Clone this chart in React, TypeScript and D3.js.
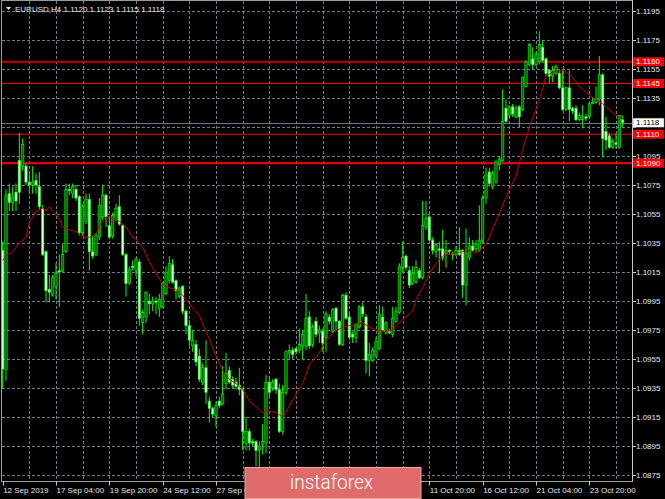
import React from 'react';
import * as d3 from 'd3';

const opens = [1.1030,1.0948,1.1069,1.1063,1.1070,1.1092,1.1088,1.1088,1.1077,1.1075,
1.1078,1.1074,1.1059,1.1029,1.1003,1.0999,1.1005,1.1016,1.1016,1.1029,
1.1072,1.1069,1.1072,1.1067,1.1042,1.1050,1.1065,1.1029,1.1027,1.1039,
1.1053,1.1068,1.1047,1.1040,1.1051,1.1060,1.1047,1.1027,1.1007,1.1019,
1.1016,1.1022,1.0980,1.0984,1.0995,1.0993,1.0995,1.0990,1.0991,1.1000,
1.1009,1.1020,1.1009,1.0998,1.1005,1.0988,1.0978,1.0964,1.0965,1.0957,
1.0939,1.0949,1.0926,1.0921,1.0916,1.0926,1.0924,1.0938,1.0947,1.0941,
1.0939,1.0937,1.0934,1.0897,1.0905,1.0898,1.0898,1.0892,1.0896,1.0897,
1.0939,1.0935,1.0941,1.0934,1.0905,1.0932,1.0959,1.0961,1.0962,1.0961,
1.0964,1.0964,1.0984,1.0965,1.0981,1.0973,1.0974,1.0970,1.0984,1.0974,
1.0990,1.0981,1.0965,1.0999,1.0984,1.0972,1.0970,1.0977,1.0991,1.0984,
1.0954,1.0954,1.0957,1.0962,1.0984,1.0973,1.0974,1.0972,1.0981,1.0987,
1.1018,1.1026,1.1016,1.1007,1.1008,1.1016,1.1011,1.1046,1.1053,1.1037,
1.1029,1.1031,1.1031,1.1028,1.1030,1.1027,1.1027,1.1030,1.1030,1.1006,
1.1025,1.1033,1.1031,1.1030,1.1037,1.1066,1.1084,1.1074,1.1077,1.1089,
1.1092,1.1128,1.1123,1.1129,1.1122,1.1129,1.1127,1.1143,1.1158,1.1162,
1.1158,1.1160,1.1170,1.1162,1.1154,1.1150,1.1152,1.1152,1.1142,1.1127,
1.1142,1.1128,1.1128,1.1120,1.1120,1.1122,1.1122,1.1131,1.1132,1.1134,
1.1151,1.1112,1.1109,1.1101,1.1104,1.1101,1.1120];

const highs = [1.1036,1.1072,1.1076,1.1074,1.1076,1.1111,1.1107,1.1090,1.1084,1.1088,
1.1083,1.1084,1.1061,1.1030,1.1013,1.1013,1.1021,1.1027,1.1034,1.1076,
1.1076,1.1076,1.1075,1.1068,1.1062,1.1069,1.1069,1.1040,1.1042,1.1066,
1.1075,1.1069,1.1053,1.1056,1.1062,1.1068,1.1048,1.1028,1.1019,1.1023,
1.1025,1.1024,1.0989,1.1002,1.1000,1.0998,1.0998,1.1000,1.1008,1.1019,
1.1026,1.1024,1.1010,1.1005,1.1006,1.0989,1.0982,1.0975,1.0968,1.0962,
1.0952,1.0968,1.0929,1.0922,1.0926,1.0929,1.0950,1.0959,1.0950,1.0943,
1.0942,1.0949,1.0935,1.0915,1.0907,1.0900,1.0899,1.0898,1.0910,1.0944,
1.0943,1.0941,1.0942,1.0938,1.0937,1.0961,1.0965,1.0963,1.0963,1.0976,
1.0975,1.1000,1.0988,1.0979,1.0984,1.0978,1.0976,1.0988,1.0986,1.0990,
1.0991,1.0982,1.1000,1.1001,1.0987,1.0974,1.0980,1.0992,1.0994,1.0986,
1.0966,1.0963,1.0970,1.0992,1.0991,1.0981,1.0976,1.0991,1.0991,1.1021,
1.1036,1.1027,1.1019,1.1019,1.1023,1.1018,1.1064,1.1064,1.1054,1.1039,
1.1035,1.1036,1.1044,1.1037,1.1031,1.1029,1.1033,1.1046,1.1031,1.1045,
1.1039,1.1037,1.1037,1.1061,1.1068,1.1087,1.1087,1.1085,1.1092,1.1095,
1.1141,1.1134,1.1130,1.1131,1.1130,1.1130,1.1150,1.1161,1.1173,1.1170,
1.1167,1.1181,1.1175,1.1163,1.1155,1.1157,1.1158,1.1154,1.1154,1.1143,
1.1154,1.1129,1.1130,1.1125,1.1130,1.1124,1.1132,1.1135,1.1143,1.1164,
1.1152,1.1122,1.1111,1.1107,1.1111,1.1123,1.1123];

const lows = [1.0935,1.0940,1.1057,1.1057,1.1057,1.1062,1.1085,1.1075,1.1069,1.1069,
1.1069,1.1058,1.1026,1.0994,1.0994,1.0998,1.0996,1.0991,1.1015,1.1028,
1.1068,1.1066,1.1064,1.1040,1.1040,1.1048,1.1016,1.1024,1.1026,1.1037,
1.1051,1.1046,1.1038,1.1038,1.1050,1.1047,1.1026,1.0998,1.1006,1.1016,
1.1012,1.0978,1.0972,1.0980,1.0986,1.0988,1.0986,1.0984,1.0990,1.0999,
1.1007,1.1007,1.0996,1.0997,1.0986,1.0972,1.0964,1.0960,1.0950,1.0939,
1.0937,1.0924,1.0911,1.0915,1.0908,1.0921,1.0923,1.0934,1.0938,1.0935,
1.0934,1.0930,1.0892,1.0892,1.0892,1.0895,1.0881,1.0880,1.0889,1.0890,
1.0929,1.0933,1.0931,1.0904,1.0903,1.0930,1.0954,1.0955,1.0958,1.0959,
1.0954,1.0961,1.0962,1.0963,1.0970,1.0966,1.0960,1.0960,1.0979,1.0973,
1.0975,1.0964,1.0964,1.0982,1.0968,1.0966,1.0966,1.0976,1.0984,1.0945,
1.0943,1.0953,1.0956,1.0961,1.0974,1.0972,1.0972,1.0970,1.0980,1.0986,
1.1015,1.1016,1.1004,1.1006,1.1007,1.1010,1.1010,1.1044,1.1036,1.1027,
1.1025,1.1014,1.1023,1.1018,1.1027,1.1023,1.1026,1.1026,1.0997,1.0992,
1.1023,1.1029,1.1029,1.1029,1.1035,1.1062,1.1074,1.1072,1.1076,1.1085,
1.1091,1.1118,1.1121,1.1122,1.1121,1.1115,1.1126,1.1142,1.1157,1.1155,
1.1157,1.1158,1.1159,1.1150,1.1145,1.1146,1.1151,1.1141,1.1126,1.1126,
1.1119,1.1124,1.1119,1.1119,1.1114,1.1119,1.1121,1.1131,1.1131,1.1130,
1.1094,1.1099,1.1100,1.1100,1.1100,1.1100,1.1115];

const closes = [1.0948,1.1068,1.1063,1.1066,1.1064,1.1070,1.1103,1.1077,1.1075,1.1077,
1.1075,1.1060,1.1027,1.1002,1.1001,1.1011,1.1014,1.1015,1.1027,1.1072,
1.1071,1.1074,1.1066,1.1042,1.1060,1.1065,1.1029,1.1026,1.1040,1.1061,
1.1068,1.1053,1.1039,1.1054,1.1059,1.1048,1.1027,1.1007,1.1017,1.1018,
1.1024,1.0983,1.0987,1.1001,1.0993,1.0995,1.0994,1.0996,1.1007,1.1015,
1.1021,1.1008,1.1002,1.1004,1.0988,1.0978,1.0968,1.0968,1.0953,1.0941,
1.0949,1.0932,1.0921,1.0917,1.0923,1.0923,1.0931,1.0945,1.0939,1.0937,
1.0936,1.0934,1.0905,1.0905,1.0897,1.0897,1.0892,1.0895,1.0898,1.0939,
1.0932,1.0939,1.0934,1.0905,1.0932,1.0960,1.0961,1.0958,1.0960,1.0965,
1.0972,1.0983,1.0964,1.0977,1.0972,1.0975,1.0966,1.0986,1.0981,1.0989,
1.0981,1.0965,1.0999,1.0983,1.0970,1.0970,1.0979,1.0991,1.0986,1.0954,
1.0958,1.0961,1.0967,1.0986,1.0975,1.0980,1.0973,1.0983,1.0988,1.1019,
1.1025,1.1018,1.1006,1.1014,1.1018,1.1011,1.1047,1.1052,1.1037,1.1030,
1.1034,1.1030,1.1025,1.1030,1.1029,1.1028,1.1030,1.1027,1.1006,1.1028,
1.1033,1.1030,1.1034,1.1037,1.1066,1.1082,1.1076,1.1083,1.1091,1.1093,
1.1119,1.1119,1.1129,1.1124,1.1128,1.1122,1.1149,1.1160,1.1172,1.1158,
1.1165,1.1172,1.1161,1.1152,1.1150,1.1154,1.1157,1.1142,1.1127,1.1142,
1.1127,1.1126,1.1120,1.1123,1.1122,1.1121,1.1131,1.1132,1.1134,1.1151,
1.1107,1.1106,1.1101,1.1105,1.1103,1.1123,1.1118];

const maBars = [0,1,3,5,7,8,10,12,13,14,15,17,18,20,22,24,26,28,29,31,33,35,37,39,40,42,44,46,48,50,52,54,56,59,60,62,64,66,68,70,72,74,76,78,80,82,84,85,87,90,92,95,96,99,102,106,108,110,112,115,117,119,121,123,124,126,128,130,132,135,138,140,142,143,145,148,152,154,156,158,160,162,163,165,168,169,171,173,176,178,180,182,184,185,186];
const maValues = [1.1023,1.1026,1.1029,1.1035,1.1039,1.1049,1.1057,1.1059,1.1057,1.1060,
1.1057,1.1052,1.1046,1.1044,1.1043,1.1039,1.1039,1.1041,1.1047,1.1053,
1.1052,1.1050,1.1046,1.1039,1.1038,1.1032,1.1022,1.1014,1.1007,1.1004,
1.1003,1.0999,1.0993,1.0985,1.0979,1.0969,1.0957,1.0947,1.0941,1.0938,
1.0934,1.0926,1.0922,1.0918,1.0919,1.0918,1.0915,1.0918,1.0927,1.0938,
1.0951,1.0959,1.0964,1.0973,1.0977,1.0979,1.0980,1.0977,1.0975,1.0974,
1.0975,1.0980,1.0984,1.0988,1.0996,1.1004,1.1014,1.1021,1.1026,1.1028,
1.1029,1.1030,1.1028,1.1030,1.1034,1.1050,1.1072,1.1081,1.1099,1.1115,
1.1127,1.1141,1.1150,1.1153,1.1154,1.1153,1.1149,1.1143,1.1137,1.1134,
1.1131,1.1127,1.1123,1.1122,1.1121];

const priceTicks = [1.0875,1.0895,1.0915,1.0935,1.0955,1.0975,1.0995,1.1015,1.1035,1.1055,1.1075,1.1095,1.1115,1.1135,1.1155,1.1175,1.1195];
const timeLabels = ["12 Sep 2019","17 Sep 04:00","19 Sep 20:00","24 Sep 12:00","27 Sep 04:00","1 Oct 20:00","4 Oct 12:00","9 Oct 04:00","11 Oct 20:00","16 Oct 12:00","21 Oct 04:00","23 Oct 20:00"];
const timeLabelBars = [0,16,32,48,64,80,96,112,128,144,160,176];
const gridBars = [8,16,24,32,40,48,56,64,72,80,88,96,104,112,120,128,136,144,152,160,168,176,184];
const levelPrices = [1.1160, 1.1145, 1.1110, 1.1090];
const currentPrice = 1.1118;
const symbolTitle = "EURUSD,H4";
const headerOHLC = ["1.1120", "1.1123", "1.1115", "1.1118"];
const logoText = "instaforex";

export default function App() {
  const W = 665, H = 499;
  const left = 2, right = 632, top = 1, bottom = 481.5;
  const x = d3.scaleLinear().domain([0, 189]).range([2.67, 2.67 + 189 * (10 / 3)]);
  const y = d3.scaleLinear().domain([1.0875, 1.1195]).range([475, 11]);
  const n = Math.min(opens.length, highs.length, lows.length, closes.length);
  const font = "'Liberation Sans', Arial, sans-serif";
  const gridColor = '#778899';
  const maLine = d3.line<number>().x((d) => x(d)).y((_d, i) => y(maValues[i]));
  const snap = (v: number) => Math.round(v) + 0.5;
  const logo = { x0: 245, x1: 421, y0: 467.5, y1: 498.5 };

  const markerPrices = [...levelPrices, currentPrice];
  const visibleTicks = priceTicks.filter((p) => {
    const near = markerPrices.filter((m) => Math.abs(y(m) - y(p)) < 7.5);
    return near.length < 2 && !markerPrices.some((m) => Math.abs(y(m) - y(p)) < 5);
  });
  const visibleTime = timeLabelBars
    .map((b, i) => ({ b, label: timeLabels[i] }))
    .filter((d) => x(d.b) < logo.x0 - 20 || x(d.b) > logo.x1);

  const candles = d3.range(n).map((i) => {
    const o = opens[i], h = highs[i], l = lows[i], c = closes[i];
    const bull = c >= o;
    const cx = x(i);
    const yTop = y(Math.max(o, c));
    const yBot = y(Math.min(o, c));
    return (
      <g key={i}>
        <line x1={cx} x2={cx} y1={y(h)} y2={y(l)} stroke="#00ff00" strokeWidth={1} />
        <rect x={cx - 1.2} y={yTop} width={2.4} height={Math.max(1, yBot - yTop)}
          fill={bull ? '#006a00' : '#d8ffd8'} stroke="#00ff00" strokeWidth={0.6} />
      </g>
    );
  });

  return (
    <svg width={W} height={H} style={{ position: 'fixed', left: 0, top: 0, display: 'block', background: '#000' }}>
      <defs>
        <clipPath id="plotClip">
          <rect x={left} y={top} width={right - left} height={bottom - top} />
        </clipPath>
      </defs>
      <rect x={0} y={0} width={W} height={H} fill="#000" />

      {/* grid */}
      <g stroke={gridColor} strokeWidth={1} strokeDasharray="3,2" opacity={0.9}>
        {priceTicks.map((p) => (
          <line key={'h' + p} x1={left} x2={right} y1={snap(y(p))} y2={snap(y(p))} />
        ))}
        {gridBars.map((b) => (
          <line key={'v' + b} x1={snap(x(b))} x2={snap(x(b))} y1={top} y2={bottom} />
        ))}
      </g>

      {/* level lines */}
      <g clipPath="url(#plotClip)">
        {levelPrices.map((p, i) => (
          <line key={'lv' + p} x1={left} x2={right} y1={y(p)} y2={y(p)}
            stroke={i === 0 ? '#c00000' : '#ff0000'} strokeWidth={i === 0 || i === 3 ? 1.8 : 1.2} />
        ))}
        <line x1={left} x2={right} y1={snap(y(currentPrice))} y2={snap(y(currentPrice))} stroke="#6c7680" strokeWidth={1} />
      </g>

      {/* candles */}
      <g clipPath="url(#plotClip)">{candles}</g>

      {/* moving average */}
      <g clipPath="url(#plotClip)">
        <path d={maLine(maBars) || ''} fill="none" stroke="#cc0000" strokeWidth={1} />
      </g>

      {/* frame */}
      <line x1={1.5} x2={1.5} y1={0} y2={bottom} stroke="#9a9a9a" strokeWidth={1} />
      <line x1={1} x2={right} y1={0.5} y2={0.5} stroke="#9a9a9a" strokeWidth={1} />
      <line x1={right + 0.5} x2={right + 0.5} y1={0} y2={bottom + 0.5} stroke="#c8c8c8" strokeWidth={1} />
      <line x1={1} x2={right + 1} y1={bottom} y2={bottom} stroke="#a0a0a0" strokeWidth={1} />

      {/* price axis */}
      <g fontFamily={font} fontSize={8} fill="#e6e6e6">
        {priceTicks.map((p) => (
          <line key={'ptk' + p} x1={right + 1} x2={right + 4} y1={snap(y(p))} y2={snap(y(p))} stroke="#c8c8c8" />
        ))}
        {visibleTicks.map((p) => (
          <text key={'pt' + p} x={636} y={y(p)} dominantBaseline="central">{p.toFixed(4)}</text>
        ))}
      </g>

      {/* level labels */}
      <g fontFamily={font} fontSize={8}>
        {levelPrices.map((p) => (
          <g key={'ll' + p}>
            <rect x={633} y={y(p) - 4.5} width={31} height={9} fill="#ff0000" />
            <text x={636} y={y(p)} dominantBaseline="central" fill="#ffffff">{p.toFixed(4)}</text>
          </g>
        ))}
        <rect x={633} y={y(currentPrice) - 4.5} width={31} height={9} fill="#ffffff" stroke="#808080" strokeWidth={0.5} />
        <text x={636} y={y(currentPrice)} dominantBaseline="central" fill="#000000">{currentPrice.toFixed(4)}</text>
      </g>

      {/* time axis */}
      <g fontFamily={font} fontSize={8} fill="#e6e6e6">
        {timeLabelBars.map((b) => (
          <line key={'tk' + b} x1={snap(x(b))} x2={snap(x(b))} y1={bottom} y2={bottom + 4} stroke="#c8c8c8" />
        ))}
        {visibleTime.map((d) => (
          <text key={'tl' + d.b} x={x(d.b) + 0.5} y={492.5}>{d.label}</text>
        ))}
      </g>

      {/* header */}
      <path d="M6,7 L11,7 L8.5,10 Z" fill="#e6e6e6" />
      <text x={15} y={11.5} fontFamily={font} fontSize={8} fill="#e6e6e6">
        {symbolTitle + '  ' + headerOHLC.join(' ')}
      </text>

      {/* logo */}
      <rect x={logo.x0} y={logo.y0} width={logo.x1 - logo.x0} height={logo.y1 - logo.y0} fill="#e06b6b" stroke="#f2a4a4" strokeWidth={1} />
      <text x={290} y={489} fontFamily="Roboto, 'Open Sans', sans-serif" fontWeight={300} fontSize={20}
        fill="#ffffff" textLength={83} lengthAdjust="spacingAndGlyphs">{logoText}</text>
    </svg>
  );
}
